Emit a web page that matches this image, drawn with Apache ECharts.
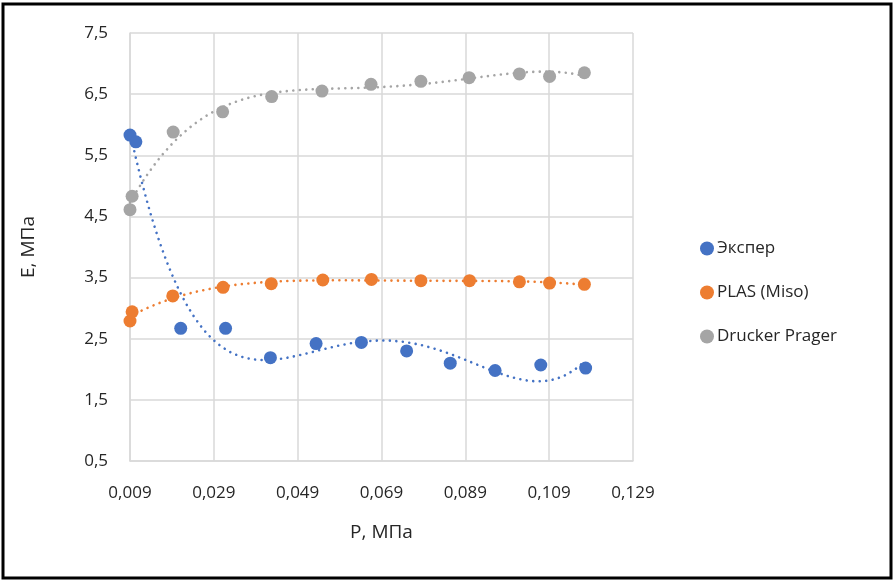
<!DOCTYPE html>
<html>
<head>
<meta charset="utf-8">
<style>
  html, body { margin: 0; padding: 0; background: #fff; }
  #chart { width: 895px; height: 581px; }
</style>
<script src="https://cdn.jsdelivr.net/npm/echarts@6/dist/echarts.min.js"></script>
</head>
<body>
<div id="chart"></div>
<script>
// Measured points: pressure P (MPa) and modulus E (MPa)
const seriesNames = ['Экспер', 'PLAS (Miso)', 'Drucker Prager'];
const pExp   = [0.009, 0.0104, 0.0211, 0.0318, 0.0425, 0.0534, 0.0642, 0.0750, 0.0854, 0.0961, 0.1070, 0.1177];
const eExp   = [5.83, 5.72, 2.67, 2.67, 2.19, 2.42, 2.44, 2.30, 2.10, 1.98, 2.07, 2.02];
const pPlas  = [0.009, 0.0095, 0.0192, 0.0312, 0.0427, 0.0550, 0.0666, 0.0784, 0.0900, 0.1019, 0.1091, 0.1174];
const ePlas  = [2.79, 2.94, 3.20, 3.34, 3.40, 3.46, 3.47, 3.45, 3.45, 3.43, 3.41, 3.39];
const pDp    = [0.009, 0.0095, 0.0193, 0.0311, 0.0428, 0.0548, 0.0665, 0.0784, 0.0899, 0.1019, 0.1091, 0.1174];
const eDp    = [4.61, 4.83, 5.88, 6.21, 6.46, 6.55, 6.66, 6.71, 6.77, 6.83, 6.79, 6.85];
const colors = ['#4472C4', '#ED7D31', '#A5A5A5'];
const trendDegree = 4;
const xTicks = { min: 0.009, max: 0.129, step: 0.02 };
const yTicks = { min: 0.5, max: 7.5, step: 1 };

// Least-squares polynomial trend line (x rescaled to [0,1] for stability)
function polyTrend(xs, ys, degree, samples) {
  const x0 = Math.min(...xs), x1 = Math.max(...xs);
  const t = xs.map(x => (x - x0) / (x1 - x0));
  const n = degree + 1;
  const A = Array.from({ length: n }, () => new Array(n + 1).fill(0));
  for (let k = 0; k < t.length; k++) {
    for (let i = 0; i < n; i++) {
      for (let j = 0; j < n; j++) A[i][j] += Math.pow(t[k], i + j);
      A[i][n] += ys[k] * Math.pow(t[k], i);
    }
  }
  for (let c = 0; c < n; c++) {
    let piv = c;
    for (let r = c + 1; r < n; r++) if (Math.abs(A[r][c]) > Math.abs(A[piv][c])) piv = r;
    [A[c], A[piv]] = [A[piv], A[c]];
    for (let r = 0; r < n; r++) {
      if (r === c) continue;
      const f = A[r][c] / A[c][c];
      for (let j = c; j <= n; j++) A[r][j] -= f * A[c][j];
    }
  }
  const coef = A.map((row, i) => row[n] / row[i]);
  const out = [];
  for (let s = 0; s <= samples; s++) {
    const tt = s / samples;
    let v = 0;
    for (let i = n - 1; i >= 0; i--) v = v * tt + coef[i];
    out.push([x0 + tt * (x1 - x0), v]);
  }
  return out;
}

const groups = [[pExp, eExp], [pPlas, ePlas], [pDp, eDp]];
const font = 'Open Sans';
const series = [];
groups.forEach(([xs, ys], i) => {
  series.push({
    name: seriesNames[i] + ' trend',
    type: 'line',
    data: polyTrend(xs, ys, trendDegree, 240),
    showSymbol: false,
    silent: true,
    z: 1,
    lineStyle: { color: colors[i], width: 2.6, type: [0.01, 6.5], cap: 'round' }
  });
});
groups.forEach(([xs, ys], i) => {
  series.push({
    name: seriesNames[i],
    type: 'scatter',
    data: xs.map((x, k) => [x, ys[k]]),
    symbol: 'circle',
    symbolSize: 13,
    z: 3,
    itemStyle: { color: colors[i], opacity: 1 }
  });
});

const chart = echarts.init(document.getElementById('chart'), null, { renderer: 'canvas' });
chart.setOption({
  animation: false,
  backgroundColor: '#fff',
  textStyle: { fontFamily: font },
  grid: { left: 130, right: 262, top: 33, bottom: 120, containLabel: false },
  legend: {
    data: seriesNames,
    orient: 'vertical',
    left: 695,
    top: 235,
    itemGap: 27,
    itemWidth: 14,
    itemHeight: 14,
    icon: 'circle',
    textStyle: { fontFamily: font, fontSize: 17, color: '#262626', padding: [0, 0, 0, -2] }
  },
  xAxis: {
    type: 'value',
    min: xTicks.min,
    max: xTicks.max,
    interval: xTicks.step,
    name: 'P, МПа',
    nameLocation: 'middle',
    nameGap: 62,
    nameTextStyle: { fontFamily: font, fontSize: 19, color: '#262626' },
    axisLine: { lineStyle: { color: '#D9D9D9', width: 1.5 } },
    axisTick: { show: false },
    axisLabel: {
      margin: 24,
      fontSize: 17,
      color: '#262626',
      formatter: v => v.toFixed(3).replace('.', ',')
    },
    splitLine: { show: true, lineStyle: { color: '#D9D9D9', width: 1.5 } }
  },
  yAxis: {
    type: 'value',
    min: yTicks.min,
    max: yTicks.max,
    interval: yTicks.step,
    name: 'E, МПа',
    nameLocation: 'middle',
    nameGap: 92,
    nameRotate: 90,
    nameTextStyle: { fontFamily: font, fontSize: 19, color: '#262626' },
    axisLine: { show: true, lineStyle: { color: '#D9D9D9', width: 1.5 } },
    axisTick: { show: false },
    axisLabel: {
      margin: 22,
      fontSize: 17,
      color: '#262626',
      formatter: v => v.toFixed(1).replace('.', ',')
    },
    splitLine: { show: true, lineStyle: { color: '#D9D9D9', width: 1.5 } }
  },
  graphic: [{
    type: 'rect',
    silent: true,
    shape: { x: 3, y: 4, width: 888, height: 574 },
    style: { fill: 'none', stroke: '#000', lineWidth: 3 }
  }],
  series: series
});
</script>
</body>
</html>
